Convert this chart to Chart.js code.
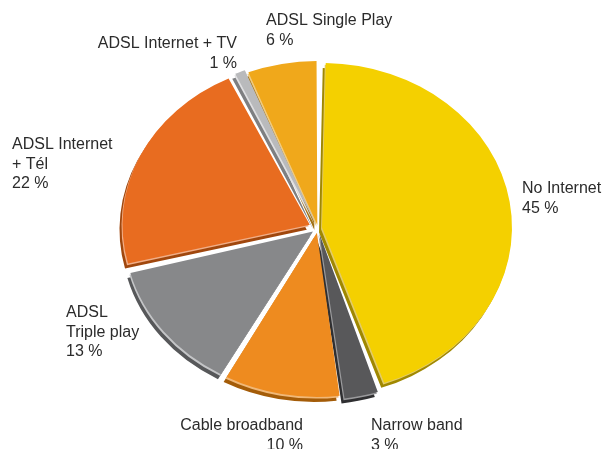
<!DOCTYPE html>
<html>
<head>
<meta charset="utf-8">
<script src="https://cdn.jsdelivr.net/npm/chart.js@4.4.1/dist/chart.umd.min.js"></script>
<style>
  html, body { margin: 0; padding: 0; background: #fff; }
  #wrap { width: 604px; height: 449px; position: relative; }
</style>
</head>
<body>
<div id="wrap"><canvas id="pieChart"></canvas></div>
<script>
// Parts du marché, dans l'ordre horaire depuis midi
const categories = ['No Internet', 'Narrow band', 'Cable broadband', 'ADSL Triple play',
                    'ADSL Internet + Tél', 'ADSL Internet + TV', 'ADSL Single Play'];
const shares = [45, 3, 10, 13, 22, 1, 6];
const labelLines = [['No Internet'], ['Narrow band'], ['Cable broadband'], ['ADSL', 'Triple play'],
                    ['ADSL Internet', '+ Tél'], ['ADSL Internet + TV'], ['ADSL Single Play']];

// couleurs : face, flanc sombre, liseré clair
const faceColors = ['#F4D000', '#58585A', '#EE8B1F', '#87888A', '#E86C20', '#B9BABC', '#F0A81B'];
const sideColors = ['#A08800', '#2F2F31', '#A45C08', '#57585A', '#A0470D', '#7E7F81', '#A07012'];
const rimColors  = ['#E2CB6A', '#9A9A9C', '#F0B878', '#C4C5C7', '#F0AE88', '#E0E0E2', '#EFCB82'];

// éclatement de chaque part, en px
const explode = [6, 10, 7, 7, 8, 8, 5];

const pieRadius = 161;
const stretchX = 1.155;

// position des étiquettes (ligne de base de la 1re ligne)
const labelPlacement = [
    { x: 522, y: 193, align: 'left' },
    { x: 371, y: 430, align: 'left' },
    { x: 303, y: 430, align: 'right' },
    { x: 66,  y: 317, align: 'left' },
    { x: 12,  y: 149, align: 'left' },
    { x: 237, y: 48,  align: 'right' },
    { x: 266, y: 25,  align: 'left' }
];

// Chart.js divise l'offset par 4 et l'augmente pour les petites parts
function offsetFor(i) {
    const circ = shares[i] / 100 * 2 * Math.PI;
    return 4 * explode[i] / (2 - Math.sin(Math.min(Math.PI, circ)));
}

// camembert étiré en ellipse, avec un flanc en relief
const ellipsePie = {
    id: 'ellipsePie',
    beforeDatasetsDraw(chart) {
        const ctx = chart.ctx;
        const arcs = chart.getDatasetMeta(0).data;
        const cx = arcs[0].x;
        const stretch = () => {
            ctx.translate(cx, 0);
            ctx.scale(stretchX, 1);
            ctx.translate(-cx, 0);
        };
        [[-3, 5, sideColors], [-1, 1.7, rimColors]].forEach(([dx, dy, colors]) => {
            arcs.forEach((arc, i) => {
                ctx.save();
                ctx.translate(dx, dy);
                stretch();
                const opts = arc.options;
                arc.options = Object.assign({}, opts, { backgroundColor: colors[i] });
                arc.draw(ctx);
                arc.options = opts;
                ctx.restore();
            });
        });
        ctx.save();
        stretch();
    },
    afterDatasetsDraw(chart) {
        chart.ctx.restore();
    }
};

const pieLabels = {
    id: 'pieLabels',
    afterDraw(chart) {
        const ctx = chart.ctx;
        ctx.save();
        ctx.font = '16px "Liberation Sans", Arial, sans-serif';
        ctx.fillStyle = '#2b2b2b';
        ctx.textBaseline = 'alphabetic';
        labelLines.forEach((lines, i) => {
            const p = labelPlacement[i];
            ctx.textAlign = p.align;
            lines.concat([shares[i] + ' %']).forEach((txt, k) => {
                ctx.fillText(txt, p.x, p.y + k * 19.5);
            });
        });
        ctx.restore();
    }
};

const ctx = document.getElementById('pieChart').getContext('2d');
new Chart(ctx, {
    type: 'pie',
    data: {
        labels: categories,
        datasets: [{
            data: shares,
            backgroundColor: faceColors,
            borderWidth: 0,
            radius: pieRadius,
            spacing: 2,
            offset: shares.map((_, i) => offsetFor(i)),
            clip: false
        }]
    },
    options: {
        responsive: true,
        maintainAspectRatio: false,
        animation: false,
        events: [],
        layout: { padding: { left: 32, right: 0, top: 7, bottom: 0 } },
        plugins: {
            legend: { display: false },
            tooltip: { enabled: false }
        }
    },
    plugins: [ellipsePie, pieLabels]
});
</script>
</body>
</html>
